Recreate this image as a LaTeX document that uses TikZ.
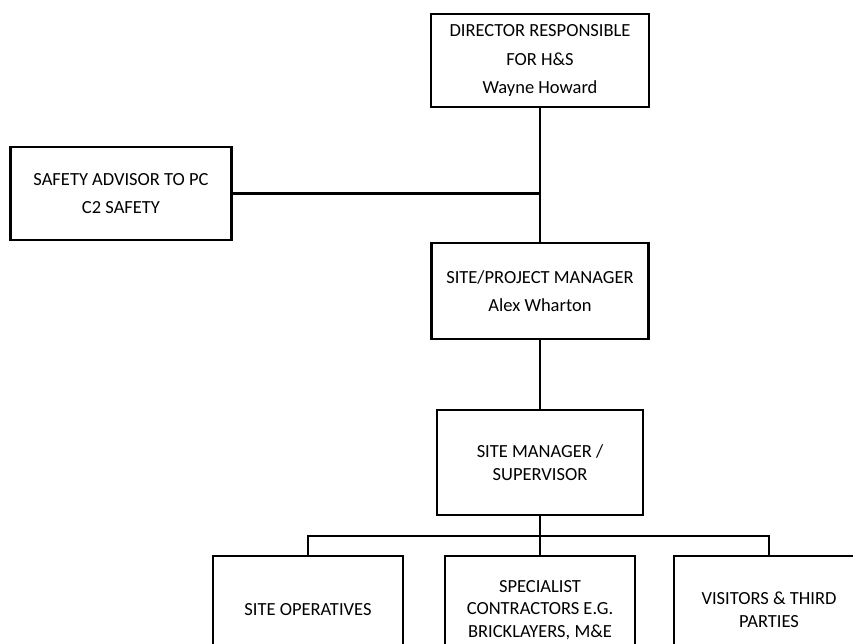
\documentclass[tikz,border=0pt]{standalone}
\usepackage{fontspec}
\setmainfont{Carlito}

\begin{document}
\begin{tikzpicture}[x=1pt, y=-1pt,
    role/.style = {draw, line width=2.6pt, align=center, inner sep=0pt,
                   font=\fontsize{18.5}{22.6}\selectfont},
    wire/.style = {line width=2.3pt}]%
    \clip (0, 0) rectangle (853, 643);
    \useasboundingbox (0, 0) rectangle (853, 643);
    % top of the chart
    \node[role, minimum width=218, minimum height=93] (dir) at (540, 60.5)
        {DIRECTOR RESPONSIBLE\\[6pt] FOR H\&S\\[6pt] Wayne Howard};
    \node[role, minimum width=221, minimum height=93] (adv) at (121, 193.5)
        {SAFETY ADVISOR TO PC\\[6pt] C2 SAFETY};
    \node[role, minimum width=217, minimum height=96] (pm) at (540, 291)
        {SITE/PROJECT MANAGER\\[6pt] Alex Wharton};
    \node[role, minimum width=206, minimum height=105] (sm) at (540, 462.5)
        {SITE MANAGER /\\ SUPERVISOR};
    % bottom row
    \node[role, minimum width=190, minimum height=108] (ops) at (308, 610)
        {SITE OPERATIVES};
    \node[role, minimum width=190, minimum height=108] (spec) at (540, 610)
        {SPECIALIST\\ CONTRACTORS E.G.\\ BRICKLAYERS, M\&E};
    \node[role, minimum width=190, minimum height=108] (vis) at (769, 610)
        {VISITORS \& THIRD\\ PARTIES};
    \coordinate (bus) at (540, 536);
    % lines
    \draw[wire] (dir.south) -- (pm.north);
    \draw[wire] (adv.east) -- (adv.east -| dir.south);
    \draw[wire] (pm.south) -- (sm.north);
    \draw[wire] (sm.south) -- (spec.north);
    \draw[wire] (ops.north) -- (ops.north |- bus) -- (vis.north |- bus) -- (vis.north);
\end{tikzpicture}
\end{document}
